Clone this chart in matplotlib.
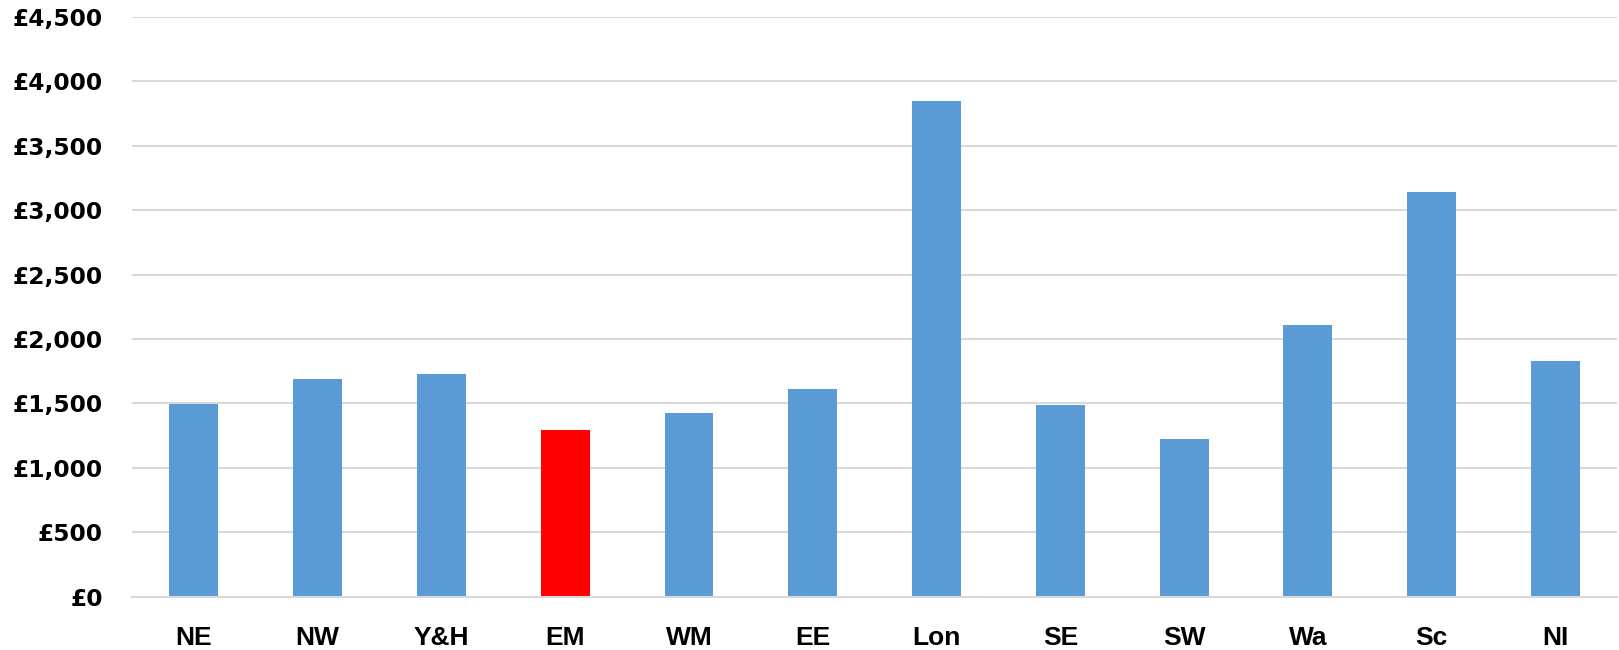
import numpy as np
import matplotlib.pyplot as plt
from matplotlib.ticker import FuncFormatter

# Regional values (£)
regions = ['NE', 'NW', 'Y&H', 'EM', 'WM', 'EE', 'Lon', 'SE', 'SW', 'Wa', 'Sc', 'NI']
values = [1492, 1686, 1730, 1293, 1425, 1609, 3847, 1487, 1223, 2109, 3142, 1827]
highlight = 'EM'

colors = ['#ff0000' if r == highlight else '#5b9bd5' for r in regions]

fig = plt.figure(figsize=(16.19, 6.5), dpi=100)
ax = fig.add_axes([0.0815, 0.0823, 0.9175, 0.8917])

x = np.arange(len(regions))
ax.bar(x, values, width=0.395, color=colors, zorder=3)

ax.set_xlim(-0.5, len(regions) - 0.5)
ax.set_ylim(0, 4500)
ax.set_yticks(np.arange(0, 4501, 500))
ax.yaxis.set_major_formatter(FuncFormatter(lambda v, p: f'£{v:,.0f}'))
ax.set_xticks(x)
ax.set_xticklabels(regions, fontfamily='Liberation Sans', fontweight='bold', fontsize=19)
for lbl in ax.get_yticklabels():
    lbl.set_fontfamily('DejaVu Sans')
    lbl.set_fontweight('bold')
    lbl.set_fontsize(16.8)

ax.tick_params(axis='y', length=0, pad=21)
ax.tick_params(axis='x', length=0, pad=21)
ax.grid(axis='y', color='#d9d9d9', linewidth=1.5, zorder=0)
for side in ['top', 'right', 'left']:
    ax.spines[side].set_visible(False)
ax.spines['bottom'].set_color('#d9d9d9')
ax.spines['bottom'].set_linewidth(1.5)
ax.spines['bottom'].set_zorder(4)

fig.savefig('out.png', dpi=100)
